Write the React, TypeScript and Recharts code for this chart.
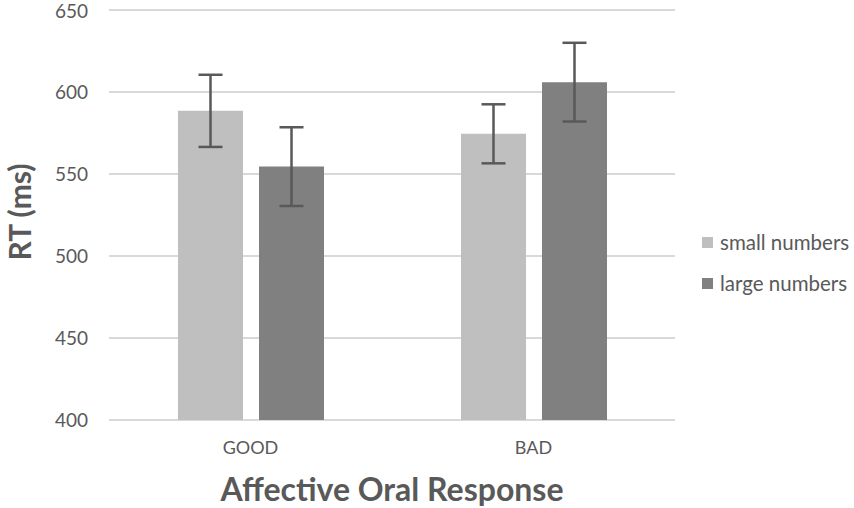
import React from 'react';
import { BarChart, Bar, XAxis, YAxis, CartesianGrid, ErrorBar } from 'recharts';

const categories = ['GOOD', 'BAD'];
const smallNumbers = [588.5, 574.5];
const smallErr = [22, 18];
const largeNumbers = [554.5, 606];
const largeErr = [24, 24];
const yTicks = [400, 450, 500, 550, 600, 650];

const series = [
  { key: 'small', name: 'small numbers', color: '#bfbfbf' },
  { key: 'large', name: 'large numbers', color: '#808080' },
];

const data = categories.map((c, i) => ({
  name: c,
  small: smallNumbers[i],
  smallErr: smallErr[i],
  large: largeNumbers[i],
  largeErr: largeErr[i],
}));

const FONT = 'Lato, sans-serif';
const TEXT = '#595959';

const XTitle = () => (
  <text x={392} y={501} textAnchor="middle" fill={TEXT} fontSize={32} fontWeight="bold" fontFamily={FONT}>
    Affective Oral Response
  </text>
);

const YTitle = () => (
  <text
    x={19}
    y={212}
    transform="rotate(-90, 19, 212)"
    textAnchor="middle"
    dominantBaseline="central"
    fill={TEXT}
    fontSize={30}
    fontWeight="bold"
    fontFamily={FONT}
  >
    RT (ms)
  </text>
);

export default function App() {
  return (
    <div style={{ position: 'absolute', left: 0, top: 0, width: 854, height: 508, background: '#fff', fontFamily: FONT }}>
      <BarChart
        width={854}
        height={508}
        data={data}
        margin={{ top: 10, right: 179, left: 0, bottom: 0 }}
        barGap={16}
        barSize={65}
      >
        <CartesianGrid vertical={false} stroke="#d9d9d9" strokeWidth={2} />
        <XAxis
          dataKey="name"
          axisLine={false}
          tickLine={false}
          tickSize={0}
          tickMargin={21}
          height={88}
          tick={{ fill: TEXT, fontSize: 18, fontFamily: FONT }}
          label={{ content: () => <XTitle /> }}
        />
        <YAxis
          domain={[400, 650]}
          ticks={yTicks}
          axisLine={false}
          tickLine={false}
          tickSize={0}
          tickMargin={21}
          width={109}
          tick={{ fill: TEXT, fontSize: 19, fontFamily: FONT }}
          label={{ content: () => <YTitle /> }}
        />
        {series.map((s) => (
          <Bar key={s.key} dataKey={s.key} name={s.name} fill={s.color} isAnimationActive={false}>
            <ErrorBar dataKey={s.key + 'Err'} width={12} stroke="#595959" strokeWidth={2.5} isAnimationActive={false} />
          </Bar>
        ))}
      </BarChart>
      <div style={{ position: 'absolute', left: 702, top: 228, color: TEXT, fontSize: 20.5 }}>
        {series.map((s) => (
          <div key={s.key} style={{ display: 'flex', alignItems: 'center', height: 28, marginBottom: 13 }}>
            <span style={{ display: 'inline-block', width: 11, height: 11, background: s.color, marginRight: 7 }} />
            <span>{s.name}</span>
          </div>
        ))}
      </div>
    </div>
  );
}
